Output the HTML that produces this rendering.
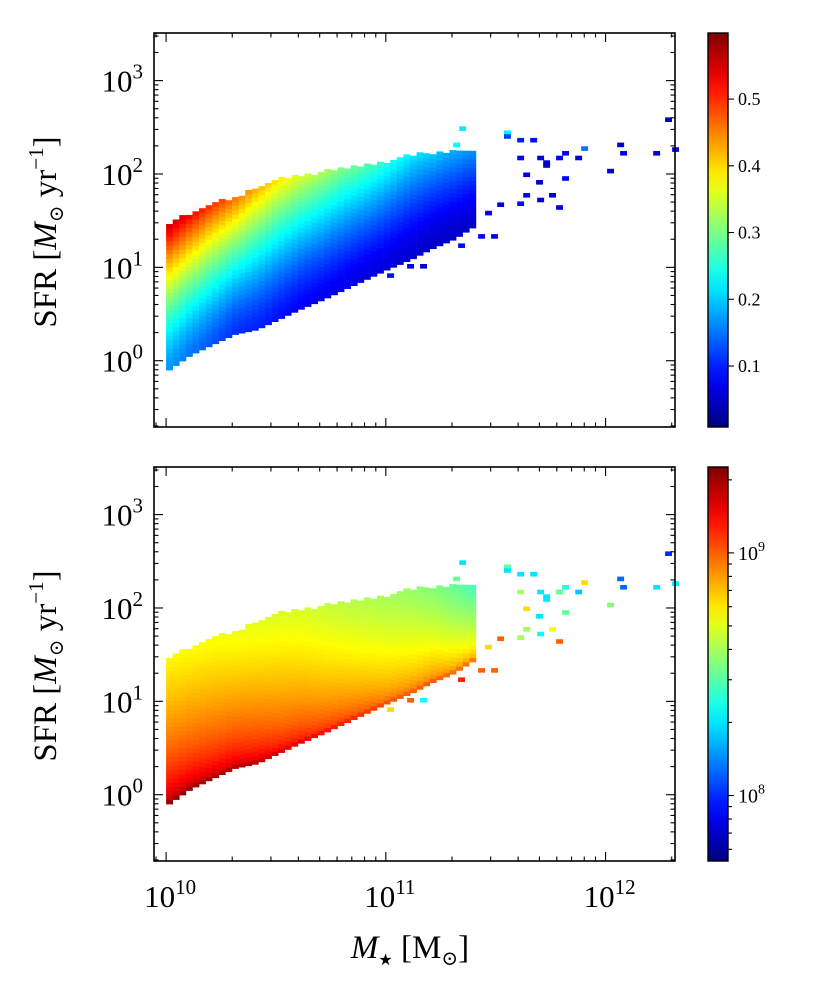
<!DOCTYPE html>
<html><head><meta charset="utf-8">
<style>
html,body{margin:0;padding:0;background:#fff;}
svg{display:block;font-family:"Liberation Serif","DejaVu Serif",serif;}
</style></head>
<body>
<svg id="fig" width="830" height="997" viewBox="0 0 830 997" xmlns="http://www.w3.org/2000/svg"></svg>
<script>
// ---- data ----
const massAnchors = [10.0,10.1,10.2,10.3,10.4,10.5,10.6,10.7,10.8,10.9,11.0,11.1,11.2,11.3,11.4];
const sfrLo = [-0.1,0.06,0.17,0.28,0.33,0.44,0.55,0.65,0.76,0.87,0.98,1.08,1.2,1.3,1.45];
const sfrHi = [1.45,1.56,1.67,1.72,1.85,1.92,1.97,2.0,2.04,2.08,2.12,2.18,2.2,2.22,2.2];
const fracTop = [0.56,0.53,0.5,0.46,0.43,0.39,0.36,0.33,0.3,0.28,0.25,0.22,0.2,0.18,0.16];
const fracBot = [0.17,0.15,0.13,0.11,0.1,0.09,0.08,0.075,0.07,0.065,0.06,0.055,0.05,0.05,0.05];
const ageTop = [8.75,8.74,8.73,8.72,8.7,8.69,8.68,8.66,8.64,8.62,8.6,8.58,8.55,8.5,8.45];
const ageBot = [9.32,9.3,9.28,9.27,9.25,9.2,9.17,9.13,9.1,9.06,9.02,9.0,9.0,8.97,8.95];
const sparseM = [12.271,11.334,11.538,11.538,11.598,11.657,11.306,11.889,12.053,12.066,12.217,12.303,11.802,11.689,11.775,11.862,11.598,11.716,11.716,12.007,11.802,11.684,11.625,11.743,11.689,11.625,11.775,11.598,11.507,11.452,11.479,11.420,11.329,11.156,11.097,11.006];
const sparseS = [2.56,2.465,2.42,2.38,2.34,2.34,2.29,2.25,2.29,2.20,2.20,2.24,2.20,2.15,2.15,2.15,2.15,2.10,2.07,2.01,1.93,1.89,1.97,1.75,1.70,1.75,1.62,1.66,1.65,1.56,1.31,1.31,1.21,0.99,0.99,0.89];
const sparseF = [0.04,0.22,0.22,0.12,0.1,0.09,0.23,0.15,0.05,0.07,0.06,0.07,0.07,0.06,0.08,0.06,0.08,0.05,0.06,0.06,0.08,0.05,0.07,0.06,0.05,0.08,0.07,0.09,0.06,0.07,0.08,0.08,0.09,0.06,0.07,0.09];
const sparseA = [8.0,8.3,8.5,8.3,8.3,8.3,8.5,8.8,8.1,8.1,8.3,8.3,8.4,8.3,8.5,8.25,8.6,8.3,8.3,8.55,8.5,8.3,8.8,8.75,8.35,8.6,9.0,8.6,9.0,8.8,9.0,9.0,9.1,8.35,9.0,8.8];
const cb1Ticks = [0.1,0.2,0.3,0.4,0.5];
const cb2Major = [8,9];
const yTickExps = [0,1,2,3];
const xTickExps = [10,11,12];

// ---- geometry ----
const X0=154, X1=675, LX0=9.945, LX1=12.316;
const panels=[{top:33,bot:427},{top:467,bot:861}];
const LY0=-0.71, LY1=3.51;
const CB={x:708,w:20};
const svg=document.getElementById('fig');
const NS='http://www.w3.org/2000/svg';
function el(tag,attrs,parent){const e=document.createElementNS(NS,tag);for(const k in attrs)e.setAttribute(k,attrs[k]);(parent||svg).appendChild(e);return e;}
function xs(lm){return X0+(lm-LX0)/(LX1-LX0)*(X1-X0);}
function ys(p,ls){return p.bot-(ls-LY0)/(LY1-LY0)*(p.bot-p.top);}
function jet(t){t=Math.max(0,Math.min(1,t));
 const r=Math.max(0,Math.min(1,1.5-Math.abs(4*t-3))),g=Math.max(0,Math.min(1,1.5-Math.abs(4*t-2))),b=Math.max(0,Math.min(1,1.5-Math.abs(4*t-1)));
 return `rgb(${Math.round(r*255)},${Math.round(g*255)},${Math.round(b*255)})`;}
const F0=0.0086,F1=0.599, A0=7.73,A1=9.354;
function interp(arr,m){let i=Math.floor((m-massAnchors[0])/0.1);i=Math.max(0,Math.min(massAnchors.length-2,i));const t=Math.min(1,(m-massAnchors[i])/0.1);return arr[i]+(arr[i+1]-arr[i])*t;}

const DX=0.03, DY=0.046;
panels.forEach((p,pi)=>{
 const g=el('g',{});
 
 
 function cell(m,s,col){
  const r=el('rect',{x:xs(m).toFixed(1),y:ys(p,s+DY).toFixed(1),width:(xs(m+DX)-xs(m)+0.3).toFixed(1),height:(ys(p,s)-ys(p,s+DY)+0.3).toFixed(1),fill:col},g);
  
  
 }
 for(let m=10.0;m<massAnchors[massAnchors.length-1]-0.02;m+=DX){
  const lo=interp(sfrLo,m),hi=interp(sfrHi,m);
  for(let s=lo;s<hi;s+=DY){
   const t=(s-lo)/Math.max(0.01,hi-lo);
   let col;
   if(pi===0){const f=interp(fracBot,m)+(interp(fracTop,m)-interp(fracBot,m))*Math.pow(t,1.4);col=jet((f-F0)/(F1-F0));}
   else{const a=interp(ageBot,m)+(interp(ageTop,m)-interp(ageBot,m))*Math.pow(t,0.55);col=jet((a-A0)/(A1-A0));}
   cell(m,s,col);
  }
 }
 sparseM.forEach((m,i)=>{cell(m,sparseS[i],pi===0?jet((sparseF[i]-F0)/(F1-F0)):jet((sparseA[i]-A0)/(A1-A0)));});

 const fr=el('rect',{x:X0,y:p.top,width:X1-X0,height:p.bot-p.top,fill:'none',stroke:'#000','stroke-width':1.6});
 
 
 for(let e=9;e<=12;e++)for(let k=1;k<10;k++){const lm=e+Math.log10(k);if(lm<LX0||lm>LX1)continue;const x=xs(lm),L=k===1?9:4.5;
  el('line',{x1:x,x2:x,y1:p.bot,y2:p.bot-L,stroke:'#000','stroke-width':1.1});
  el('line',{x1:x,x2:x,y1:p.top,y2:p.top+L,stroke:'#000','stroke-width':1.1});}
 for(let e=-1;e<=3;e++)for(let k=1;k<10;k++){const ls=e+Math.log10(k);if(ls<LY0||ls>LY1)continue;const y=ys(p,ls),L=k===1?9:4.5;
  el('line',{x1:X0,x2:X0+L,y1:y,y2:y,stroke:'#000','stroke-width':1.1});
  el('line',{x1:X1,x2:X1-L,y1:y,y2:y,stroke:'#000','stroke-width':1.1});}
 yTickExps.forEach(e=>{const t=el('text',{x:143,y:ys(p,e)+11,'text-anchor':'end','font-size':31});
  
  
  t.innerHTML=`10<tspan dy="-13" font-size="21">${e}</tspan>`;});
 const yl=el('text',{transform:`translate(56,${(p.top+p.bot)/2+2}) rotate(-90)`,'text-anchor':'middle','font-size':33});
 
 
 yl.innerHTML='SFR [<tspan font-style="italic">M</tspan><tspan font-size="20" dy="7">⊙</tspan><tspan dy="-7"> yr</tspan><tspan dy="-13" font-size="21">−1</tspan><tspan dy="13">]</tspan>';

 const defs=el('defs',{});const gr=el('linearGradient',{id:'jg'+pi,x1:0,y1:1,x2:0,y2:0},defs);
 for(let i=0;i<=20;i++)el('stop',{offset:i/20,'stop-color':jet(i/20)},gr);
 const cb=el('rect',{x:CB.x,y:p.top,width:CB.w,height:p.bot-p.top,fill:`url(#jg${pi})`,stroke:'#000','stroke-width':1.4});
 
 
 function cbY(v){return pi===0?p.bot-(v-F0)/(F1-F0)*(p.bot-p.top):p.bot-(v-A0)/(A1-A0)*(p.bot-p.top);}
 if(pi===0){cb1Ticks.forEach(v=>{const y=cbY(v);el('line',{x1:CB.x+CB.w,x2:CB.x+CB.w+6,y1:y,y2:y,stroke:'#000','stroke-width':1.1});
  const t=el('text',{x:CB.x+CB.w+10,y:y+6,'font-size':18});t.textContent=v.toFixed(1);
  
  });}
 else{for(let e=7;e<=9;e++)for(let k=1;k<10;k++){const v=e+Math.log10(k);if(v<A0||v>A1)continue;const y=cbY(v);
   el('line',{x1:CB.x+CB.w,x2:CB.x+CB.w+(k===1?6:4),y1:y,y2:y,stroke:'#000','stroke-width':1.1});}
  cb2Major.forEach(e=>{const y=cbY(e);const t=el('text',{x:CB.x+CB.w+10,y:y+7,'font-size':20});
   
   
   t.innerHTML=`10<tspan dy="-9" font-size="14">${e}</tspan>`;});}
});
xTickExps.forEach(e=>{const t=el('text',{x:xs(e)+4,y:907,'text-anchor':'middle','font-size':31});
 
 
 t.innerHTML=`10<tspan dy="-13" font-size="21">${e}</tspan>`;});
const xl=el('text',{x:410,y:958,'text-anchor':'middle','font-size':33});


xl.innerHTML='<tspan font-style="italic">M</tspan><tspan font-size="16" dy="7">★</tspan><tspan dy="-7"> [M</tspan><tspan font-size="20" dy="7">⊙</tspan><tspan dy="-7">]</tspan>';
</script>
</body></html>
